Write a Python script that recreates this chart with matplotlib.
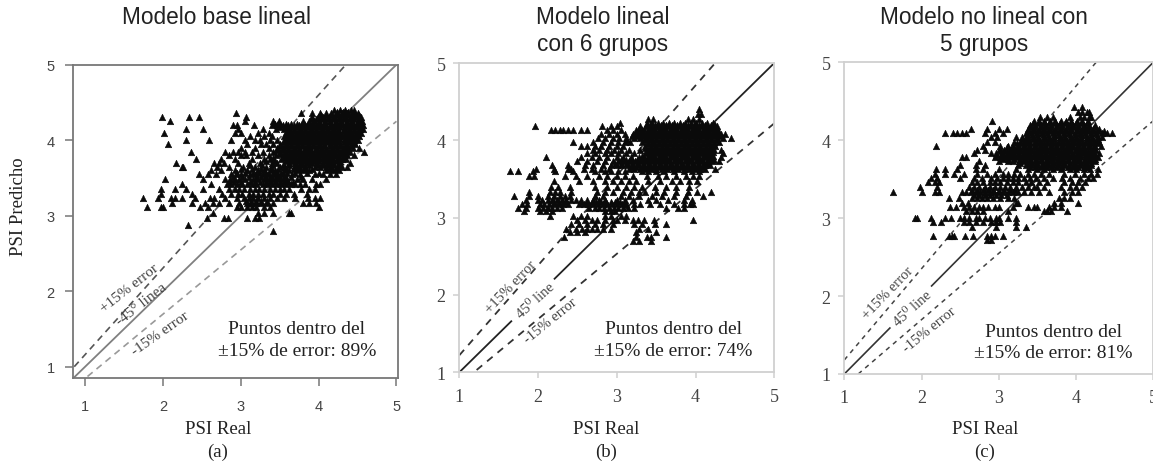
#!/usr/bin/env python3

import matplotlib
matplotlib.use('Agg')
import matplotlib.pyplot as plt

W = 1153
H = 464
SANS = 'Liberation Sans'
SERIF = 'Liberation Serif'

ticks = [1, 2, 3, 4, 5]

# points, row by row: (PSI Predicho, [PSI Real, ...])
a_rows = [
    (4.40, [4.20, 4.27, 4.34, 4.41, 4.46]),
    (4.36, [2.94, 3.78, 3.91, 4.02, 4.09, 4.16, 4.23, 4.30, 4.37, 4.44, 4.51]),
    (4.31, [1.99, 2.34, 2.46, 3.07, 3.92, 3.99, 4.06, 4.13, 4.20, 4.27, 4.34, 4.41, 4.48, 4.55]),
    (4.25, [2.09, 3.06, 3.42, 3.49, 3.80, 3.87, 3.94, 4.01, 4.08, 4.15, 4.22, 4.29, 4.36, 4.43, 4.50, 4.56]),
    (4.20, [2.90, 2.95, 3.17, 3.40, 3.47, 3.54, 3.61, 3.68, 3.75, 3.82, 3.89, 3.96, 4.03, 4.10, 4.17, 4.24, 4.31, 4.38, 4.45, 4.52, 4.57]),
    (4.15, [2.29, 2.52, 2.97, 3.28, 3.45, 3.55, 3.62, 3.69, 3.76, 3.83, 3.90, 3.97, 4.04, 4.11, 4.18, 4.25, 4.32, 4.39, 4.46, 4.53, 4.57]),
    (4.10, [2.01, 2.93, 3.00, 3.22, 3.36, 3.58, 3.65, 3.72, 3.79, 3.86, 3.93, 4.00, 4.07, 4.14, 4.21, 4.28, 4.35, 4.42, 4.49, 4.55]),
    (4.05, [3.12, 3.30, 3.40, 3.56, 3.63, 3.70, 3.77, 3.84, 3.91, 3.98, 4.05, 4.12, 4.19, 4.26, 4.33, 4.40, 4.47, 4.52]),
    (4.00, [2.29, 2.59, 2.88, 3.05, 3.18, 3.25, 3.38, 3.46, 3.55, 3.62, 3.69, 3.76, 3.83, 3.90, 3.97, 4.04, 4.11, 4.18, 4.25, 4.32, 4.39, 4.46, 4.50]),
    (3.95, [2.07, 3.08, 3.26, 3.33, 3.42, 3.50, 3.58, 3.65, 3.72, 3.79, 3.86, 3.93, 4.00, 4.07, 4.14, 4.21, 4.28, 4.35, 4.42, 4.47]),
    (3.90, [3.00, 3.18, 3.36, 3.46, 3.54, 3.61, 3.68, 3.75, 3.82, 3.89, 3.96, 4.03, 4.10, 4.17, 4.24, 4.31, 4.38, 4.44, 4.52]),
    (3.85, [2.36, 2.80, 2.90, 2.97, 3.05, 3.14, 3.28, 3.42, 3.50, 3.57, 3.64, 3.71, 3.78, 3.85, 3.92, 3.99, 4.06, 4.13, 4.20, 4.27, 4.34, 4.40, 4.58]),
    (3.80, [2.85, 3.00, 3.07, 3.22, 3.36, 3.45, 3.55, 3.62, 3.69, 3.76, 3.83, 3.90, 3.97, 4.04, 4.11, 4.18, 4.25, 4.32, 4.37, 4.45]),
    (3.75, [2.42, 2.75, 2.92, 3.15, 3.30, 3.38, 3.52, 3.60, 3.67, 3.74, 3.81, 3.88, 3.95, 4.02, 4.09, 4.16, 4.23, 4.30, 4.35]),
    (3.70, [2.17, 2.65, 2.72, 2.78, 2.96, 3.10, 3.25, 3.40, 3.47, 3.62, 3.70, 3.77, 3.84, 3.91, 3.98, 4.05, 4.12, 4.19, 4.26, 4.40]),
    (3.65, [2.25, 2.26, 2.70, 2.85, 3.03, 3.18, 3.33, 3.50, 3.57, 3.68, 3.75, 3.82, 3.95, 4.02, 4.09, 4.16, 4.23, 4.30, 4.37]),
    (3.60, [2.62, 2.75, 2.93, 3.08, 3.22, 3.30, 3.37, 3.44, 3.55, 3.62, 3.72, 3.80, 3.88, 4.10, 4.18, 4.26]),
    (3.55, [2.46, 2.58, 2.68, 2.88, 2.94, 3.00, 3.12, 3.20, 3.28, 3.36, 3.42, 3.48, 3.54, 3.66, 3.76, 3.95, 4.05, 4.15, 4.22]),
    (3.48, [2.02, 2.52, 2.80, 2.86, 2.92, 2.98, 3.05, 3.16, 3.22, 3.30, 3.36, 3.42, 3.48, 3.54, 3.60, 3.72, 3.80, 3.92, 4.10]),
    (3.42, [2.25, 2.62, 2.82, 2.88, 2.95, 3.02, 3.08, 3.15, 3.20, 3.28, 3.34, 3.40, 3.46, 3.52, 3.58, 3.64, 3.70, 3.76, 3.82, 3.96, 4.02]),
    (3.36, [1.97, 2.15, 2.30, 2.52, 2.72, 2.85, 2.92, 2.98, 3.04, 3.12, 3.18, 3.24, 3.30, 3.38, 3.44, 3.50, 3.56, 3.62, 3.78, 3.88, 3.95]),
    (3.29, [1.98, 2.37, 2.76, 2.88, 2.96, 3.02, 3.10, 3.16, 3.22, 3.28, 3.36, 3.42, 3.50, 3.58, 3.68, 3.85]),
    (3.23, [1.74, 1.94, 2.10, 2.15, 2.25, 2.41, 2.60, 2.66, 2.80, 2.95, 3.04, 3.10, 3.16, 3.22, 3.30, 3.38, 3.46, 3.55, 3.70, 3.86, 3.95, 4.02]),
    (3.17, [2.11, 2.37, 2.54, 2.64, 2.72, 2.85, 2.98, 3.08, 3.13, 3.20, 3.26, 3.34, 3.42, 3.80, 3.88, 3.96]),
    (3.11, [1.80, 1.98, 2.00, 2.47, 2.58, 2.95, 3.00, 3.08, 3.14, 3.20, 3.30, 3.38, 4.00]),
    (3.03, [2.64, 3.22, 3.30, 3.42, 3.62, 3.65]),
    (2.97, [2.56, 2.79, 2.84, 3.08, 3.18, 3.24]),
    (2.88, [2.32]),
    (2.80, [3.42]),
]
# the solid part of the cloud, between the rows above
a_core_rows = [
    (4.38, [4.24, 4.31, 4.38, 4.45]),
    (4.33, [4.03, 4.10, 4.17, 4.24, 4.31, 4.38, 4.45, 4.52]),
    (4.28, [3.90, 3.97, 4.04, 4.11, 4.18, 4.25, 4.32, 4.39, 4.46, 4.53]),
    (4.22, [3.44, 3.51, 3.58, 3.65, 3.72, 3.79, 3.86, 3.93, 4.00, 4.07, 4.14, 4.21, 4.28, 4.35, 4.42, 4.49, 4.54]),
    (4.17, [3.50, 3.58, 3.65, 3.72, 3.79, 3.86, 3.93, 4.00, 4.07, 4.14, 4.21, 4.28, 4.35, 4.42, 4.49, 4.55]),
    (4.12, [3.62, 3.69, 3.76, 3.83, 3.90, 3.97, 4.04, 4.11, 4.18, 4.25, 4.32, 4.39, 4.46, 4.52]),
    (4.07, [3.60, 3.67, 3.74, 3.81, 3.88, 3.95, 4.02, 4.09, 4.16, 4.23, 4.30, 4.37, 4.44, 4.50]),
    (4.02, [3.58, 3.65, 3.72, 3.79, 3.86, 3.93, 4.00, 4.07, 4.14, 4.21, 4.28, 4.35, 4.42, 4.48]),
    (3.97, [3.55, 3.62, 3.69, 3.76, 3.83, 3.90, 3.97, 4.04, 4.11, 4.18, 4.25, 4.32, 4.39, 4.45]),
    (3.92, [3.50, 3.58, 3.65, 3.72, 3.79, 3.86, 3.93, 4.00, 4.07, 4.14, 4.21, 4.28, 4.35, 4.41]),
    (3.87, [3.46, 3.54, 3.61, 3.68, 3.75, 3.82, 3.89, 3.96, 4.03, 4.10, 4.17, 4.24, 4.31, 4.37]),
    (3.82, [3.50, 3.59, 3.66, 3.73, 3.80, 3.87, 3.94, 4.01, 4.08, 4.15, 4.22, 4.29, 4.35]),
    (3.77, [3.42, 3.56, 3.63, 3.70, 3.77, 3.84, 3.91, 3.98, 4.05, 4.12, 4.19, 4.26, 4.32]),
    (3.72, [3.33, 3.44, 3.58, 3.66, 3.73, 3.80, 3.87, 3.94, 4.01, 4.08, 4.15, 4.22, 4.28]),
    (3.67, [3.12, 3.27, 3.40, 3.54, 3.62, 3.72, 3.79, 3.87, 3.98, 4.06, 4.13, 4.20, 4.27]),
    (3.62, [3.00, 3.15, 3.26, 3.40, 3.48, 3.58, 3.68, 3.76, 3.84, 3.92, 4.14, 4.22]),
    (3.57, [2.95, 3.05, 3.16, 3.24, 3.32, 3.45, 3.52, 3.60, 3.70, 3.85, 4.00]),
    (3.51, [2.90, 3.02, 3.10, 3.19, 3.26, 3.33, 3.39, 3.45, 3.51, 3.57, 3.65, 3.78]),
    (3.45, [2.85, 2.91, 3.00, 3.12, 3.18, 3.25, 3.32, 3.38, 3.44, 3.50, 3.55, 3.61, 3.67]),
    (3.20, [3.07, 3.13, 3.19, 3.26, 3.34]),
]

b_rows = [
    (4.40, [4.05]),
    (4.34, [4.03, 4.07]),
    (4.27, [3.40, 3.46, 3.90, 3.97, 4.04]),
    (4.22, [3.04, 3.38, 3.45, 3.52, 3.59, 3.66, 3.73, 3.80, 3.87, 3.94, 4.01, 4.08, 4.15, 4.22]),
    (4.18, [1.96, 2.81, 2.92, 3.00, 3.30, 3.37, 3.44, 3.51, 3.58, 3.65, 3.72, 3.79, 3.86, 3.93, 4.00, 4.07, 4.14, 4.21, 4.27]),
    (4.13, [2.16, 2.21, 2.28, 2.32, 2.38, 2.45, 2.55, 2.62, 2.88, 2.95, 3.05, 3.25, 3.32, 3.39, 3.46, 3.53, 3.60, 3.67, 3.74, 3.81, 3.88, 3.95, 4.02, 4.09, 4.16, 4.23, 4.29]),
    (4.08, [2.80, 2.90, 3.00, 3.10, 3.20, 3.27, 3.34, 3.41, 3.48, 3.55, 3.62, 3.69, 3.76, 3.83, 3.90, 3.97, 4.04, 4.11, 4.18, 4.25, 4.32, 4.37]),
    (4.03, [2.76, 2.85, 2.95, 3.03, 3.12, 3.22, 3.29, 3.36, 3.43, 3.50, 3.57, 3.64, 3.71, 3.78, 3.85, 3.92, 3.99, 4.06, 4.13, 4.20, 4.27, 4.35, 4.45]),
    (3.98, [2.45, 2.70, 2.82, 2.92, 3.02, 3.10, 3.17, 3.32, 3.39, 3.46, 3.53, 3.60, 3.67, 3.74, 3.81, 3.88, 3.95, 4.02, 4.09, 4.16, 4.23, 4.30]),
    (3.93, [2.55, 2.62, 2.72, 2.80, 2.90, 3.00, 3.08, 3.36, 3.43, 3.50, 3.57, 3.64, 3.71, 3.78, 3.85, 3.92, 3.99, 4.06, 4.13, 4.20, 4.25]),
    (3.88, [2.70, 2.78, 2.88, 2.96, 3.05, 3.15, 3.30, 3.40, 3.47, 3.54, 3.61, 3.68, 3.75, 3.82, 3.89, 3.96, 4.03, 4.10, 4.17, 4.23, 4.32]),
    (3.83, [2.62, 2.72, 2.85, 2.92, 3.02, 3.12, 3.22, 3.36, 3.43, 3.50, 3.57, 3.64, 3.71, 3.78, 3.85, 3.92, 3.99, 4.06, 4.13, 4.20, 4.35]),
    (3.78, [2.10, 2.55, 2.68, 2.78, 2.88, 3.00, 3.08, 3.18, 3.28, 3.35, 3.42, 3.49, 3.56, 3.63, 3.70, 3.77, 3.84, 3.91, 3.98, 4.05, 4.12, 4.19, 4.32]),
    (3.73, [2.50, 2.62, 2.75, 2.85, 2.95, 3.02, 3.09, 3.16, 3.23, 3.30, 3.37, 3.44, 3.51, 3.58, 3.65, 3.72, 3.79, 3.86, 3.93, 4.00, 4.07, 4.14, 4.21, 4.30]),
    (3.68, [2.18, 2.38, 2.60, 2.70, 2.82, 2.92, 3.00, 3.07, 3.14, 3.21, 3.28, 3.35, 3.42, 3.49, 3.56, 3.63, 3.70, 3.77, 3.84, 3.91, 3.98, 4.05, 4.12, 4.18]),
    (3.63, [1.98, 2.20, 2.38, 2.42, 2.58, 2.68, 2.80, 2.90, 3.15, 3.22, 3.29, 3.36, 3.43, 3.50, 3.57, 3.64, 3.71, 3.78, 3.85, 3.92, 3.99, 4.06, 4.12, 4.25]),
    (3.60, [1.65, 1.74, 1.93, 2.22, 2.45, 2.72, 2.85, 2.92, 3.02, 3.10, 3.32, 3.40, 3.50, 3.60, 3.72, 3.85, 3.95, 4.05]),
    (3.54, [1.88, 1.95, 2.34, 2.48, 2.62, 2.78, 2.88, 3.00, 3.10, 3.20, 3.38, 3.52, 3.62, 3.75, 3.88, 3.97, 4.05]),
    (3.47, [2.20, 2.52, 2.70, 2.85, 2.95, 3.05, 3.15, 3.25, 3.40, 3.55, 3.70, 3.80, 3.92, 4.02]),
    (3.40, [2.16, 2.25, 2.40, 2.72, 2.88, 3.00, 3.12, 3.22, 3.32, 3.48, 3.62, 3.75, 3.92]),
    (3.33, [1.88, 2.15, 2.22, 2.28, 2.42, 2.75, 2.85, 2.95, 3.08, 3.18, 3.28, 3.36, 3.50, 3.60, 3.75, 3.90, 4.02, 4.20]),
    (3.28, [1.70, 1.88, 2.00, 2.12, 2.20, 2.28, 2.34, 2.40, 2.72, 2.82, 3.05, 3.15, 3.28, 3.45, 3.58, 3.72, 3.88, 4.10]),
    (3.23, [1.85, 2.00, 2.05, 2.12, 2.18, 2.24, 2.30, 2.36, 2.42, 2.48, 2.55, 2.62, 2.70, 2.78, 2.85, 3.00, 3.10, 3.20, 3.40, 3.50, 3.65, 3.85, 3.95]),
    (3.18, [1.80, 1.86, 2.02, 2.08, 2.14, 2.20, 2.26, 2.32, 2.38, 2.52, 2.58, 2.64, 2.70, 2.76, 2.82, 2.88, 2.94, 3.00, 3.06, 3.12, 3.22, 3.30, 3.42, 3.55, 3.72, 3.85, 3.93, 3.97]),
    (3.13, [1.75, 1.85, 2.00, 2.06, 2.12, 2.18, 2.24, 2.30, 2.65, 2.72, 2.78, 2.84, 2.90, 2.96, 3.02, 3.08, 3.14, 3.22, 3.62, 3.78, 3.85]),
    (3.08, [1.82, 2.02, 2.10, 2.18, 2.85, 2.92, 2.98]),
    (3.02, [2.15, 2.45, 2.55, 2.62, 2.85, 2.92, 3.05, 3.12]),
    (2.97, [2.50, 2.60, 2.68, 2.75, 2.85, 2.95, 3.00, 3.10, 3.20, 3.27, 3.35, 3.47, 3.97]),
    (2.92, [2.42, 2.52, 2.62, 2.72, 2.82, 2.95, 3.22, 3.32, 3.48, 3.63]),
    (2.85, [2.35, 2.48, 2.56, 2.62, 2.68, 2.75, 2.82, 2.93, 3.28, 3.40]),
    (2.81, [2.40, 2.50, 2.60, 3.25, 3.50]),
    (2.75, [2.33, 3.25, 3.38, 3.44, 3.62]),
    (2.70, [3.20, 3.28, 3.44]),
]
b_core_rows = [
    (4.20, [3.42, 3.49, 3.56, 3.63, 3.70, 3.77, 3.84, 3.91, 3.98, 4.05, 4.12, 4.19, 4.25]),
    (4.15, [3.28, 3.35, 3.42, 3.49, 3.56, 3.63, 3.70, 3.77, 3.84, 3.91, 3.98, 4.05, 4.12, 4.19, 4.26]),
    (4.10, [3.24, 3.31, 3.38, 3.45, 3.52, 3.59, 3.66, 3.73, 3.80, 3.87, 3.94, 4.01, 4.08, 4.15, 4.22, 4.29]),
    (4.05, [3.19, 3.26, 3.33, 3.40, 3.47, 3.54, 3.61, 3.68, 3.75, 3.82, 3.89, 3.96, 4.03, 4.10, 4.17, 4.24, 4.31]),
    (4.00, [3.13, 3.36, 3.43, 3.50, 3.57, 3.64, 3.71, 3.78, 3.85, 3.92, 3.99, 4.06, 4.13, 4.20, 4.27]),
    (3.95, [3.40, 3.47, 3.54, 3.61, 3.68, 3.75, 3.82, 3.89, 3.96, 4.03, 4.10, 4.17, 4.23]),
    (3.90, [3.36, 3.43, 3.50, 3.57, 3.64, 3.71, 3.78, 3.85, 3.92, 3.99, 4.06, 4.13, 4.20]),
    (3.85, [3.40, 3.47, 3.54, 3.61, 3.68, 3.75, 3.82, 3.89, 3.96, 4.03, 4.10, 4.17, 4.22]),
    (3.80, [3.32, 3.39, 3.46, 3.53, 3.60, 3.67, 3.74, 3.81, 3.88, 3.95, 4.02, 4.09, 4.16, 4.22]),
    (3.75, [3.05, 3.12, 3.19, 3.26, 3.33, 3.40, 3.47, 3.54, 3.61, 3.68, 3.75, 3.82, 3.89, 3.96, 4.03, 4.10, 4.17, 4.23]),
    (3.70, [2.98, 3.05, 3.12, 3.19, 3.26, 3.33, 3.40, 3.47, 3.54, 3.61, 3.68, 3.75, 3.82, 3.89, 3.96, 4.03, 4.10, 4.16]),
    (3.65, [3.18, 3.25, 3.32, 3.39, 3.46, 3.53, 3.60, 3.67, 3.74, 3.81, 3.88, 3.95, 4.02, 4.08]),
    (3.20, [2.20, 2.27, 2.34, 2.55, 2.62, 2.68, 2.74, 2.80, 2.86, 2.92, 2.98, 3.04, 3.10]),
]

c_rows = [
    (4.43, [3.97, 4.08]),
    (4.36, [4.03, 4.08, 4.14, 4.17]),
    (4.30, [3.53, 3.63, 3.70, 3.92, 4.05, 4.10, 4.17, 4.20]),
    (4.25, [2.91, 3.45, 3.52, 3.59, 3.66, 3.73, 3.80, 3.87, 3.94, 4.01, 4.08, 4.15]),
    (4.20, [3.40, 3.47, 3.54, 3.61, 3.68, 3.75, 3.82, 3.89, 3.96, 4.03, 4.10, 4.17, 4.24]),
    (4.14, [2.64, 2.85, 3.00, 3.10, 3.38, 3.45, 3.52, 3.59, 3.66, 3.73, 3.80, 3.87, 3.94, 4.01, 4.08, 4.15, 4.22, 4.30]),
    (4.09, [2.31, 2.41, 2.46, 2.52, 2.57, 2.82, 2.95, 3.05, 3.35, 3.42, 3.49, 3.56, 3.63, 3.70, 3.77, 3.84, 3.91, 3.98, 4.05, 4.12, 4.19, 4.26, 4.33, 4.40, 4.46]),
    (4.04, [2.90, 2.98, 3.22, 3.30, 3.37, 3.44, 3.51, 3.58, 3.65, 3.72, 3.79, 3.86, 3.93, 4.00, 4.07, 4.14, 4.21, 4.28, 4.34]),
    (3.98, [2.85, 2.95, 3.20, 3.27, 3.34, 3.41, 3.48, 3.55, 3.62, 3.69, 3.76, 3.83, 3.90, 3.97, 4.04, 4.11, 4.18, 4.25, 4.30]),
    (3.93, [2.19, 2.80, 3.02, 3.12, 3.19, 3.26, 3.33, 3.40, 3.47, 3.54, 3.61, 3.68, 3.75, 3.82, 3.89, 3.96, 4.03, 4.10, 4.17, 4.24, 4.32]),
    (3.88, [2.72, 2.82, 3.00, 3.07, 3.14, 3.21, 3.28, 3.35, 3.42, 3.49, 3.56, 3.63, 3.70, 3.77, 3.84, 3.91, 3.98, 4.05, 4.12, 4.19, 4.26]),
    (3.83, [2.68, 2.90, 2.97, 3.04, 3.11, 3.18, 3.25, 3.32, 3.39, 3.46, 3.53, 3.60, 3.67, 3.74, 3.81, 3.88, 3.95, 4.02, 4.09, 4.16, 4.23, 4.30]),
    (3.78, [2.52, 2.57, 2.95, 3.02, 3.09, 3.16, 3.23, 3.30, 3.37, 3.44, 3.51, 3.58, 3.65, 3.72, 3.79, 3.86, 3.93, 4.00, 4.07, 4.14, 4.21, 4.28]),
    (3.73, [2.75, 3.00, 3.12, 3.19, 3.26, 3.33, 3.40, 3.47, 3.54, 3.61, 3.68, 3.75, 3.82, 3.89, 3.96, 4.03, 4.10, 4.17, 4.24]),
    (3.68, [2.50, 2.70, 2.82, 3.25, 3.35, 3.42, 3.49, 3.56, 3.63, 3.70, 3.77, 3.84, 3.91, 3.98, 4.05, 4.12, 4.19]),
    (3.63, [2.19, 2.30, 2.46, 2.70, 2.80, 3.00, 3.22, 3.38, 3.50, 3.58, 3.70, 3.80, 3.92, 4.00, 4.10, 4.18, 4.28]),
    (3.57, [2.18, 2.30, 2.42, 2.55, 2.72, 2.85, 2.95, 3.05, 3.12, 3.20, 3.28, 3.38, 3.45, 3.55, 3.65, 3.85, 3.98, 4.10, 4.20, 4.27]),
    (3.52, [2.12, 2.20, 2.50, 2.68, 2.78, 2.90, 2.98, 3.05, 3.12, 3.18, 3.25, 3.32, 3.40, 3.48, 3.58, 3.70, 3.82, 3.92, 4.05, 4.15, 4.22]),
    (3.46, [2.08, 2.17, 2.22, 2.65, 2.72, 2.80, 2.88, 2.95, 3.02, 3.10, 3.18, 3.25, 3.35, 3.42, 3.52, 3.62, 3.85, 3.95, 4.02, 4.12]),
    (3.40, [1.98, 2.20, 2.62, 2.68, 2.75, 2.82, 2.88, 2.95, 3.02, 3.08, 3.15, 3.22, 3.30, 3.38, 3.45, 3.50, 3.58, 3.80, 3.92, 4.00, 4.08]),
    (3.33, [1.63, 2.00, 2.17, 2.22, 2.52, 2.58, 2.64, 2.70, 2.76, 2.82, 2.88, 2.94, 3.00, 3.06, 3.12, 3.18, 3.25, 3.32, 3.42, 3.52, 3.65, 3.85, 3.95, 4.03]),
    (3.26, [2.36, 2.48, 2.65, 2.72, 2.78, 2.85, 2.92, 3.02, 3.12, 3.20, 3.78, 3.85, 3.92]),
    (3.20, [2.52, 2.60, 3.22, 3.25, 3.72, 3.80, 4.03]),
    (3.14, [2.37, 2.44, 2.55, 2.62, 2.68, 2.74, 2.80, 2.86, 2.95, 3.00, 3.18, 3.38, 3.45, 3.50, 3.65, 3.72, 3.80]),
    (3.09, [2.58, 2.65, 2.72, 2.80, 3.12, 3.58, 3.62, 3.68, 3.88]),
    (3.00, [1.91, 1.94, 2.12, 2.30, 2.38, 2.50, 2.55, 2.62, 2.70, 2.75, 2.82, 2.88, 2.97, 3.00, 3.12, 3.22]),
    (2.95, [2.15, 2.25, 2.55, 2.62, 2.70, 2.80, 2.90, 2.97, 3.02, 3.22]),
    (2.89, [2.65, 2.97, 3.35, 3.22]),
    (2.77, [2.15, 2.35, 2.39, 2.42, 2.56, 2.66, 2.85, 2.90, 2.95, 3.05]),
    (2.72, [2.85, 2.90]),
]
c_core_rows = [
    (4.22, [3.44, 3.51, 3.58, 3.65, 3.72, 3.79, 3.86, 3.93, 4.00, 4.07, 4.14]),
    (4.17, [3.40, 3.47, 3.54, 3.61, 3.68, 3.75, 3.82, 3.89, 3.96, 4.03, 4.10, 4.17, 4.24]),
    (4.12, [3.38, 3.45, 3.52, 3.59, 3.66, 3.73, 3.80, 3.87, 3.94, 4.01, 4.08, 4.15, 4.22, 4.29, 4.36]),
    (4.07, [3.36, 3.43, 3.50, 3.57, 3.64, 3.71, 3.78, 3.85, 3.92, 3.99, 4.06, 4.13, 4.20, 4.27]),
    (4.01, [3.30, 3.37, 3.44, 3.51, 3.58, 3.65, 3.72, 3.79, 3.86, 3.93, 4.00, 4.07, 4.14, 4.21, 4.28]),
    (3.96, [3.24, 3.31, 3.38, 3.45, 3.52, 3.59, 3.66, 3.73, 3.80, 3.87, 3.94, 4.01, 4.08, 4.15, 4.22, 4.28]),
    (3.91, [3.10, 3.17, 3.24, 3.31, 3.38, 3.45, 3.52, 3.59, 3.66, 3.73, 3.80, 3.87, 3.94, 4.01, 4.08, 4.15, 4.22]),
    (3.86, [3.03, 3.10, 3.17, 3.24, 3.31, 3.38, 3.45, 3.52, 3.59, 3.66, 3.73, 3.80, 3.87, 3.94, 4.01, 4.08, 4.15, 4.22]),
    (3.81, [2.97, 3.06, 3.13, 3.20, 3.27, 3.34, 3.41, 3.48, 3.55, 3.62, 3.69, 3.76, 3.83, 3.90, 3.97, 4.04, 4.11, 4.18, 4.25]),
    (3.76, [3.05, 3.12, 3.20, 3.27, 3.34, 3.41, 3.48, 3.55, 3.62, 3.69, 3.76, 3.83, 3.90, 3.97, 4.04, 4.11, 4.18, 4.24]),
    (3.71, [3.28, 3.36, 3.43, 3.50, 3.57, 3.64, 3.71, 3.78, 3.85, 3.92, 3.99, 4.06, 4.13, 4.20]),
    (3.66, [3.40, 3.47, 3.54, 3.61, 3.68, 3.75, 3.82, 3.89, 3.96, 4.03, 4.10, 4.16]),
    (3.36, [2.65, 2.72, 2.79, 2.86, 2.93, 3.00, 3.07, 3.14, 3.21]),
    (3.30, [2.68, 2.75, 2.82, 2.89, 2.96, 3.03, 3.10]),
]

# reference lines, (x, y) end points
a_diag = ([0.84, 5], [0.84, 5])
a_up = ([0.86, 4.35], [1.0, 5])
a_lo = ([1.03, 5], [0.87, 4.25])

b_diag = ([1, 1.66], [1, 1.66])
b_diag2 = ([2.21, 5], [2.21, 5])
b_up = ([1, 4.25], [1.22, 5])
b_lo = ([1.22, 5], [1.03, 4.22])

c_diag = ([1, 1.59], [1, 1.59])
c_diag2 = ([2.13, 5], [2.13, 5])
c_up = ([1, 4.26], [1.18, 5])
c_lo = ([1.18, 5], [1, 4.25])


def px_axes(left, right, top, bottom):
    return fig.add_axes([left/W, 1-bottom/H, (right-left)/W, (bottom-top)/H])


def fig_text(x, y, s, **kw):
    fig.text(x/W, 1-y/H, s, ha='center', va='center', **kw)


def draw_points(ax, rows):
    xs = [x for y, row in rows for x in row]
    ys = [y for y, row in rows for x in row]
    ax.scatter(xs, ys, marker='^', s=22, color='#0a0a0a', edgecolors='#0a0a0a', linewidths=0.4, zorder=3)


def style(ax, xlim, ylim, spine, tick_len, font, size, color, padx, pady):
    ax.set_xlim(xlim)
    ax.set_ylim(ylim)
    ax.set_xticks(ticks)
    ax.set_yticks(ticks)
    for s in ax.spines.values():
        s.set_color(spine)
        s.set_linewidth(1.3)
    ax.tick_params(axis='x', length=tick_len, width=1.1, color=spine, labelcolor=color, labelsize=size, pad=padx)
    ax.tick_params(axis='y', length=tick_len, width=1.1, color=spine, labelcolor=color, labelsize=size, pad=pady)
    for lab in ax.get_xticklabels() + ax.get_yticklabels():
        lab.set_family(font)


def note(ax, x, y1, y2, line1, line2):
    ax.text(x, y1, line1, family=SERIF, fontsize=14, color='#222222', ha='center', va='center', zorder=5)
    ax.text(x, y2, line2, family=SERIF, fontsize=14, color='#222222', ha='center', va='center', zorder=5)


def slanted(ax, x, y, s, angle=41, size=10.5):
    ax.text(x, y, s, family=[SERIF, 'DejaVu Serif'], fontsize=size, color='#444444', rotation=angle,
            ha='center', va='center', rotation_mode='anchor', zorder=4)


fig = plt.figure(figsize=(W/100, H/100), dpi=100)

# Panel (a)
ax = px_axes(72.7, 398, 65.7, 379)
style(ax, [0.84, 5.02], [0.85, 5.0], '#777777', 6, SANS, 10.5, '#444444', 9, 7)
ax.plot(*a_diag, color='#808080', lw=1.3, zorder=1)
ax.plot(*a_up, color='#555555', lw=1.2, ls=(0, (4, 3)), zorder=1)
ax.plot(*a_lo, color='#999999', lw=1.2, ls=(0, (4, 3)), zorder=1)
draw_points(ax, a_rows + a_core_rows)
slanted(ax, 1.57, 2.05, '+15% error', 38, 11)
slanted(ax, 1.72, 1.83, '-45° linea', 38, 11)
slanted(ax, 1.96, 1.45, '-15% error', 35, 11)
note(ax, 3.72, 1.50, 1.21, 'Puntos dentro del', '±15% de error: 89%')

# Panel (b)
ax = px_axes(459.3, 774.3, 64, 373.3)
style(ax, [1, 5], [1, 5], '#d0d0d0', 4, SERIF, 13, '#444444', 7, 6)
ax.plot(*b_diag, color='#222222', lw=1.3, zorder=1)
ax.plot(*b_diag2, color='#222222', lw=1.3, zorder=1)
ax.plot(*b_up, color='#333333', lw=1.3, ls=(0, (4, 3.5)), zorder=1)
ax.plot(*b_lo, color='#333333', lw=1.3, ls=(0, (4, 3.5)), zorder=1)
draw_points(ax, b_rows + b_core_rows)
slanted(ax, 1.66, 2.11, '+15% error', 46)
slanted(ax, 1.97, 1.93, '45⁰ line', 42)
slanted(ax, 2.16, 1.67, '-15% error', 39)
note(ax, 3.72, 1.56, 1.28, 'Puntos dentro del', '±15% de error: 74%')

# Panel (c)
ax = px_axes(844.3, 1153.3, 63.3, 375)
style(ax, [1, 5], [1, 5], '#d0d0d0', 4, SERIF, 13, '#444444', 7, 6)
ax.plot(*c_diag, color='#333333', lw=1.2, zorder=1)
ax.plot(*c_diag2, color='#333333', lw=1.2, zorder=1)
ax.plot(*c_up, color='#444444', lw=1.1, ls=(0, (3, 3)), zorder=1)
ax.plot(*c_lo, color='#444444', lw=1.1, ls=(0, (3, 3)), zorder=1)
draw_points(ax, c_rows + c_core_rows)
slanted(ax, 1.57, 2.05, '+15% error', 46)
slanted(ax, 1.88, 1.84, '45⁰ line', 42)
slanted(ax, 2.11, 1.58, '-15% error', 39)
note(ax, 3.71, 1.55, 1.27, 'Puntos dentro del', '±15% de error: 81%')

# Titles and axis captions
title_kw = dict(family=SANS, fontsize=16.3, color='#222222')
cap_kw = dict(family=SERIF, fontsize=13.5, color='#222222')
fig_text(217, 17, 'Modelo base lineal', **title_kw)
fig_text(603, 17, 'Modelo lineal', **title_kw)
fig_text(603, 44, 'con 6 grupos', **title_kw)
fig_text(984, 17, 'Modelo no lineal con', **title_kw)
fig_text(984, 44, '5 grupos', **title_kw)

fig_text(218, 430, 'PSI Real', **cap_kw)
fig_text(218, 452, '(a)', **cap_kw)
fig_text(605.7, 430, 'PSI Real', **cap_kw)
fig_text(605.7, 452, '(b)', **cap_kw)
fig_text(985, 430, 'PSI Real', **cap_kw)
fig_text(985, 452, '(c)', **cap_kw)
fig_text(19, 207, 'PSI Predicho', rotation=90, **cap_kw)

fig.savefig('out.png', dpi=100)
plt.close(fig)
